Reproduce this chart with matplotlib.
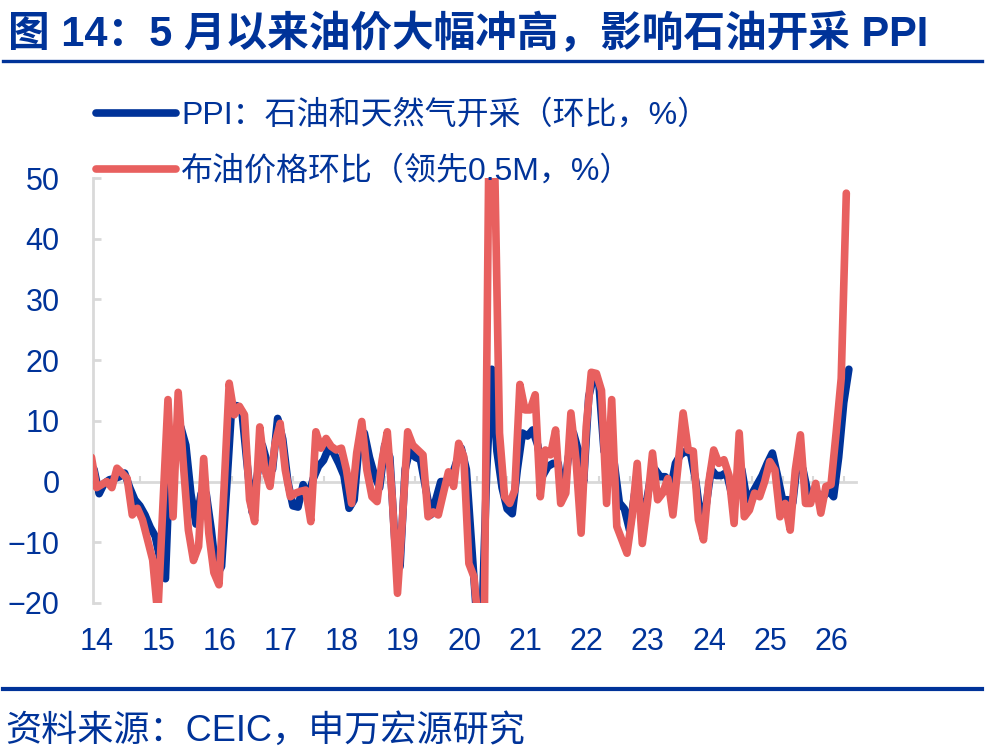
import matplotlib.pyplot as plt
import numpy as np
from matplotlib.lines import Line2D
from matplotlib.ticker import MultipleLocator
from matplotlib.transforms import ScaledTranslation

plt.rcParams['font.family'] = ['Liberation Sans', 'Noto Sans CJK SC', 'DejaVu Sans']

NAVY = '#003399'
RED = '#E8605F'
GRAY = '#D9D9D9'

# PPI: oil & gas extraction, MoM %, monthly Jan 2014 - May 2026
ppi = [
    2.0, -2.0, -0.3, 0.3, 0.5, 0.8, 1.4, -1.0, -3.0, -4.0, -5.5, -7.5,      # 2014
    -9.0, -13.0, -16.0, 6.0, 4.0, 9.0, 6.0, -2.0, -7.0, -2.0, -2.0, -8.0,   # 2015
    -15.5, -14.0, -1.0, 12.5, 12.5, 11.5, 3.0, -5.0, 1.0, 6.0, 3.0, 2.0,    # 2016
    10.4, 7.0, 0.0, -4.0, -4.2, -0.5, -2.5, 0.5, 2.5, 3.5, 5.5, 4.7,        # 2017
    3.0, 1.0, -4.4, -3.0, 6.5, 8.0, 4.0, 1.0, -1.0, 6.0, 4.0, -10.0,        # 2018
    -14.0, 2.0, 5.5, 4.0, 3.6, -1.0, -5.5, -3.0, 0.0, 0.0, 0.5, 3.0,        # 2019
    5.5, 2.0, -10.0, -22.0, -25.0, 2.0, 18.5, 5.0, -1.0, -4.5, -5.3, 2.0,   # 2020
    8.0, 7.5, 8.5, 6.0, 1.0, 2.5, 3.0, 3.0, -2.5, 4.0, 8.0, 5.0,            # 2021
    0.0, 14.0, 17.5, 16.0, 5.0, 4.0, 3.0, -3.5, -4.5, -8.0, -2.0, -3.0,     # 2022
    -5.0, 0.0, 2.0, 0.8, 0.8, -1.5, 3.0, 4.4, 5.0, 4.5, 0.0, -6.5,          # 2023
    -4.0, 2.0, 1.0, 1.0, 1.5, -2.0, 0.0, 2.0, -3.0, -2.0, -0.5, 1.0,        # 2024
    3.0, 4.7, 1.0, -3.0, -3.0, -3.5, 4.0, 2.0, -2.0, -2.0, -2.0, -2.5,      # 2025
    -1.5, -2.5, 4.0, 13.0, 18.5,                                            # 2026
]

# Brent MoM %, shifted half a month ahead of PPI
brent = [
    4.0, -1.0, -0.5, 0.0, -1.0, 2.2, 1.4, 0.5, -5.5, -4.4, -6.3, -9.6,
    -12.9, -22.0, -4.0, 13.5, -5.8, 14.7, 3.0, -8.0, -13.0, -10.7, 3.8, -8.5,
    -15.0, -17.0, -1.0, 16.2, 11.0, 12.4, 11.0, -3.0, -6.6, 9.0, 1.9, -0.8,
    6.3, 9.6, 1.9, -2.5, -1.9, -1.6, -1.4, -6.6, 8.2, 5.5, 7.1, 5.8,
    5.2, 5.5, 1.9, -3.6, 4.7, 9.9, 1.9, -2.5, -3.3, 3.6, 8.2, -3.0,
    -18.4, -5.8, 8.2, 6.0, 5.2, 4.4, -5.8, -5.0, -5.5, -1.9, 1.6, -0.8,
    6.3, 4.1, -13.5, -15.7, -25.0, -25.0, 62.0, 55.0, 8.0, -2.5, -3.6, -1.4,
    16.0, 11.8, 11.8, 14.3, -2.5, 5.2, 4.4, 8.5, -3.6, -1.9, 11.3, 3.6,
    -8.5, 9.0, 18.0, 17.8, 15.0, -3.6, 13.5, -7.4, -9.6, -11.8, -5.8, 3.0,
    -10.2, -3.6, 4.7, -3.0, -1.9, 0.5, -5.5, 2.5, 11.3, 5.2, 5.0, -6.3,
    -9.6, -0.3, 5.2, 3.0, 3.6, 1.0, -6.9, 8.0, -5.8, -4.7, -1.9, -2.5,
    0.0, 3.3, 1.9, -5.8, -3.6, -8.0, 1.9, 7.7, -3.6, -3.6, -0.3, -5.2,
    -0.8, -0.5, 8.0, 17.0, 47.5,
]

years = list(range(2014, 2027))
year_labels = [str(y)[2:] for y in years]

x_ppi = 2014 + np.arange(len(ppi)) / 12
x_brent = 2014 + (np.arange(len(brent)) - 0.5) / 12

fig = plt.figure(figsize=(9.9, 7.53), dpi=100)
ax = fig.add_axes([93 / 990, 150 / 753, 763 / 990, 425 / 753])

ax.plot(x_ppi, ppi, color=NAVY, lw=5.5, solid_capstyle='round', solid_joinstyle='round',
        label='PPI：石油和天然气开采（环比，%）', zorder=2)
ax.plot(x_brent, brent, color=RED, lw=5.5, solid_capstyle='round', solid_joinstyle='round',
        label='布油价格环比（领先0.5M，%）', zorder=3)

ax.set_xlim(2014 - 0.2 / 12, 2014 + 149.4 / 12)
ax.set_ylim(-20, 50)
ax.yaxis.set_major_locator(MultipleLocator(10))

for s in ['top', 'right']:
    ax.spines[s].set_visible(False)
ax.spines['left'].set_color(GRAY)
ax.spines['left'].set_linewidth(2)
ax.spines['bottom'].set_position(('data', 0))
ax.spines['bottom'].set_color(GRAY)
ax.spines['bottom'].set_linewidth(2)
ax.spines['bottom'].set_zorder(1)

ax.set_xticks(2014 + np.arange(3, 150, 6) / 12)
ax.tick_params(axis='x', direction='in', length=4.5, width=1.5, color=GRAY, labelbottom=False)
ax.tick_params(axis='y', direction='in', length=6, width=2, color=GRAY,
               labelsize=22, labelcolor=NAVY, pad=24)

sec = ax.secondary_xaxis('bottom')
sec.set_xticks(years)
sec.set_xticklabels(year_labels)
sec.spines['bottom'].set_visible(False)
sec.tick_params(length=0, labelsize=22, labelcolor=NAVY, pad=17)
shift = ScaledTranslation(3 / 100, 0, fig.dpi_scale_trans)
for lab in sec.get_xticklabels():
    lab.set_transform(lab.get_transform() + shift)

ax.legend(loc='upper left', bbox_to_anchor=(96 / 990, 1 - 100 / 753),
          bbox_transform=fig.transFigure, frameon=False, fontsize=23,
          labelcolor=NAVY, handlelength=2.5, handletextpad=0.17,
          borderpad=0, borderaxespad=0, labelspacing=0.8)

fig.text(8 / 990, 1 - 34 / 753, '图 14：5 月以来油价大幅冲高，影响石油开采 PPI',
         fontsize=30, fontweight='bold', color=NAVY, va='center', ha='left')
fig.add_artist(Line2D([3 / 990, 982 / 990], [1 - 61 / 753] * 2, lw=2.4, color=NAVY))
fig.add_artist(Line2D([3 / 990, 982 / 990], [1 - 688.5 / 753] * 2, lw=3, color=NAVY))
fig.text(5 / 990, 1 - 731 / 753, '资料来源：CEIC，申万宏源研究',
         fontsize=26, color=NAVY, va='center', ha='left')

fig.savefig('out.png', dpi=100)
